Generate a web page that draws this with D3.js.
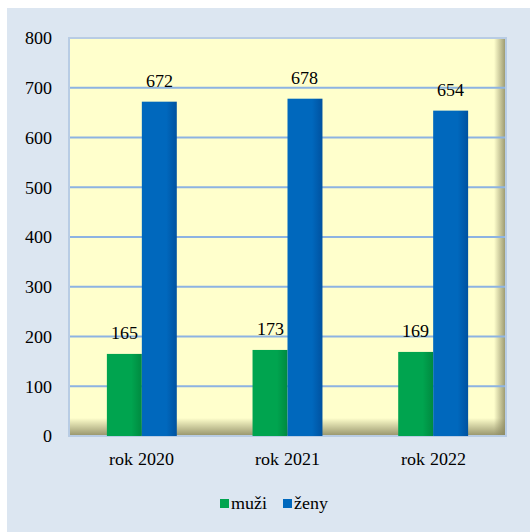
<!DOCTYPE html>
<html><head><meta charset="utf-8">
<script src="https://cdn.jsdelivr.net/npm/d3@7"></script>
<style>
@font-face{font-family:"ChartSerif";src:local("Liberation Serif"),local("LiberationSerif"),local("Times New Roman");}
body{margin:0;background:#fff}svg{display:block}
</style>
</head><body><svg id="c" width="530" height="532" font-family="ChartSerif, Liberation Serif, serif"></svg>
<script>
const categories = ["rok 2020", "rok 2021", "rok 2022"];
const seriesNames = ["muži", "ženy"];
const muzi = [165, 173, 169];
const zeny = [672, 678, 654];
const yTicks = [0, 100, 200, 300, 400, 500, 600, 700, 800];
const colors = ["#00a44f", "#0068bd"];
const dark = ["#008a40", "#0052a0"];
const FONT = "ChartSerif, Liberation Serif, serif";

const svg = d3.select("#c");
const defs = svg.append("defs");
colors.forEach((c, i) => {
  const g = defs.append("linearGradient").attr("id", "bg" + i).attr("x1", 0).attr("x2", 1).attr("y1", 0).attr("y2", 0);
  g.append("stop").attr("offset", "0%").attr("stop-color", c);
  g.append("stop").attr("offset", "70%").attr("stop-color", c);
  g.append("stop").attr("offset", "100%").attr("stop-color", dark[i]);
});
const sb = defs.append("linearGradient").attr("id", "shB").attr("x1", 0).attr("x2", 0).attr("y1", 0).attr("y2", 1);
sb.append("stop").attr("offset", "0%").attr("stop-color", "#8a8760").attr("stop-opacity", 0);
sb.append("stop").attr("offset", "100%").attr("stop-color", "#8a8760").attr("stop-opacity", 0.9);
const sr = defs.append("linearGradient").attr("id", "shR").attr("x1", 0).attr("x2", 1).attr("y1", 0).attr("y2", 0);
sr.append("stop").attr("offset", "0%").attr("stop-color", "#8a8760").attr("stop-opacity", 0);
sr.append("stop").attr("offset", "100%").attr("stop-color", "#8a8760").attr("stop-opacity", 0.9);

svg.append("rect").attr("x", 7).attr("y", 8).attr("width", 523).attr("height", 524).attr("fill", "#dce6f1");

const L = 69, R = 506, T = 38, B = 436;
const x = d3.scaleBand().domain(categories).range([L, R]).paddingInner(0.52).paddingOuter(0.26);
const xs = d3.scaleBand().domain(seriesNames).range([0, x.bandwidth()]);
const y = d3.scaleLinear().domain([0, 800]).range([B, T]);

svg.append("rect").attr("x", L).attr("y", T).attr("width", R - L).attr("height", B - T).attr("fill", "#ffffcc");
svg.append("rect").attr("x", L).attr("y", B - 18).attr("width", R - L).attr("height", 18).attr("fill", "url(#shB)");
svg.append("rect").attr("x", R - 12).attr("y", T).attr("width", 12).attr("height", B - T).attr("fill", "url(#shR)");

svg.append("g").selectAll("line").data(yTicks.filter(d => d > 0 && d < 800)).join("line")
  .attr("x1", L).attr("x2", R).attr("y1", d => y(d)).attr("y2", d => y(d))
  .attr("stroke", "#8db3e2").attr("stroke-width", 2);

svg.append("rect").attr("x", L).attr("y", T).attr("width", R - L).attr("height", B - T)
  .attr("fill", "none").attr("stroke", "#b8cce4").attr("stroke-width", 2);

const data = [muzi, zeny];
data.forEach((vals, si) => {
  const g = svg.append("g");
  g.selectAll("rect").data(vals).join("rect")
    .attr("x", (d, i) => x(categories[i]) + xs(seriesNames[si]))
    .attr("y", d => y(d)).attr("width", xs.bandwidth()).attr("height", d => B - y(d))
    .attr("fill", "url(#bg" + si + ")");
  g.selectAll("text").data(vals).join("text")
    .attr("x", (d, i) => x(categories[i]) + xs(seriesNames[si]) + xs.bandwidth() / 2)
    .attr("y", d => y(d) - 15).attr("text-anchor", "middle")
    .attr("font-family", FONT).attr("font-size", 18).attr("fill", "#000").text(d => d);
});

const ya = svg.append("g").attr("transform", `translate(${L},0)`)
  .call(d3.axisLeft(y).tickValues(yTicks).tickSize(0).tickPadding(17));
ya.attr("font-family", FONT).attr("font-size", 18);
ya.select(".domain").remove();
ya.selectAll("text").attr("font-family", FONT).attr("fill", "#000");

const xa = svg.append("g").attr("transform", `translate(0,${B})`)
  .call(d3.axisBottom(x).tickSize(0).tickPadding(16));
xa.attr("font-family", FONT).attr("font-size", 18);
xa.select(".domain").remove();
xa.selectAll("text").attr("font-family", FONT).attr("fill", "#000");

const legend = svg.append("g");
const lx = [220, 283];
seriesNames.forEach((n, i) => {
  legend.append("rect").attr("x", lx[i]).attr("y", 499).attr("width", 9).attr("height", 9).attr("fill", colors[i]);
  legend.append("text").attr("x", lx[i] + 11).attr("y", 509).attr("font-family", FONT).attr("font-size", 18).attr("fill", "#000").text(n);
});
</script></body></html>
